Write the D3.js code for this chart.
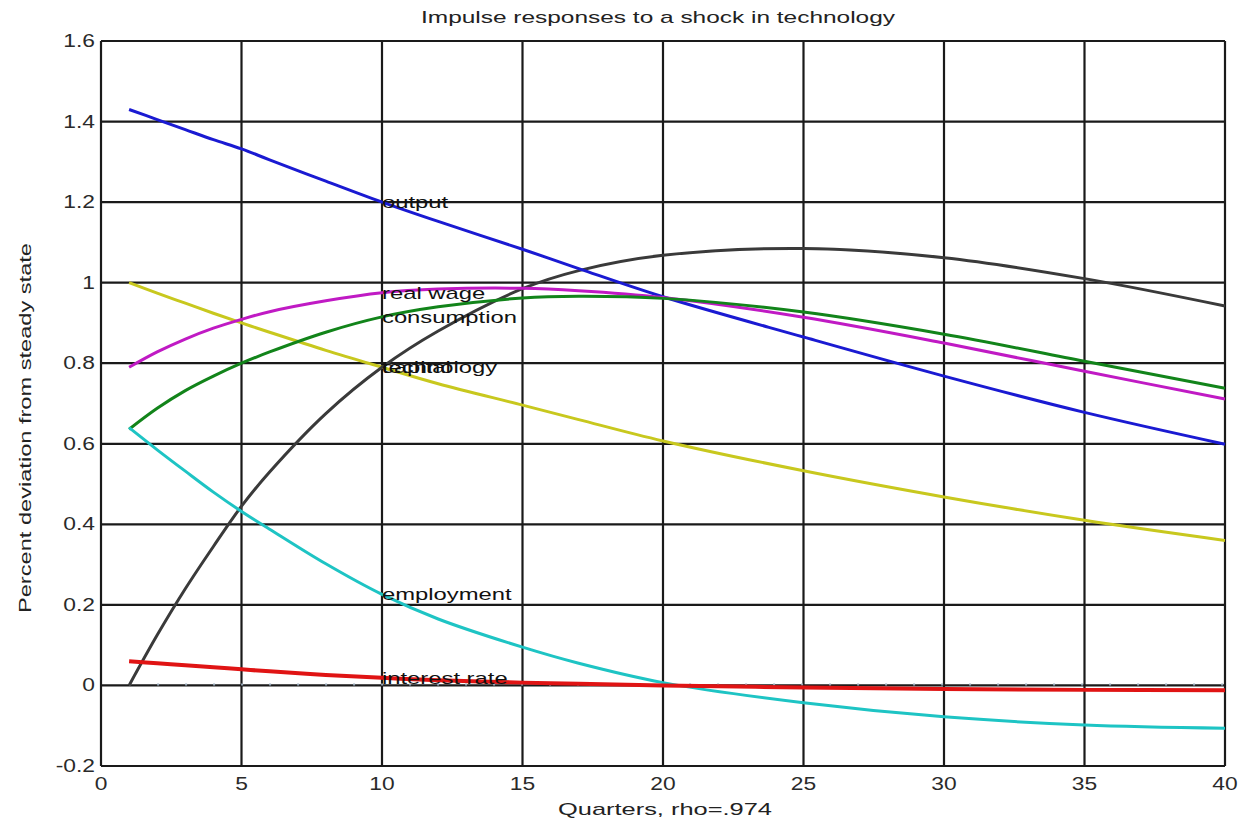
<!DOCTYPE html>
<html>
<head>
<meta charset="utf-8">
<script src="https://cdn.jsdelivr.net/npm/d3@7"></script>
<style>
  html, body { margin: 0; padding: 0; background: #fff; }
  svg { display: block; font-family: "Liberation Sans", Arial, sans-serif; }
</style>
</head>
<body>
<div id="chart"></div>
<script>
const width = 1241
const height = 821

const quarters = [1, 2, 3, 4, 5, 6, 8, 10, 12, 15, 17, 20, 25, 30, 35, 40]

const output      = [1.43, 1.405, 1.38, 1.355, 1.332, 1.305, 1.252, 1.2, 1.152, 1.083, 1.035, 0.965, 0.865, 0.768, 0.678, 0.599]
const capital     = [0.0, 0.125, 0.24, 0.345, 0.445, 0.53, 0.675, 0.79, 0.88, 0.985, 1.03, 1.068, 1.085, 1.062, 1.01, 0.942]
const realWage    = [0.79, 0.828, 0.86, 0.887, 0.909, 0.928, 0.955, 0.975, 0.984, 0.986, 0.98, 0.963, 0.914, 0.85, 0.78, 0.711]
const consumption = [0.636, 0.688, 0.732, 0.768, 0.8, 0.828, 0.877, 0.915, 0.94, 0.962, 0.966, 0.961, 0.927, 0.872, 0.805, 0.738]
const technology  = [1.0, 0.974, 0.949, 0.924, 0.9, 0.877, 0.832, 0.79, 0.749, 0.696, 0.66, 0.607, 0.533, 0.468, 0.41, 0.36]
const employment  = [0.64, 0.585, 0.532, 0.48, 0.432, 0.388, 0.302, 0.226, 0.165, 0.095, 0.055, 0.007, -0.043, -0.078, -0.098, -0.106]
const interest    = [0.06, 0.055, 0.05, 0.045, 0.04, 0.035, 0.026, 0.019, 0.013, 0.007, 0.004, 0.0, -0.005, -0.009, -0.011, -0.012]

const seriesNames  = ['technology', 'capital', 'output', 'real wage', 'consumption', 'employment', 'interest rate']
const seriesValues = [technology, capital, output, realWage, consumption, employment, interest]
const seriesColors = ['#c8c81e', '#3a3a3a', '#1a1ad2', '#c01ac4', '#12841a', '#1ec4c4', '#e01414']
const labelQuarter = 10

const xTicks = [0, 5, 10, 15, 20, 25, 30, 35, 40]
const yTicks = [-0.2, 0, 0.2, 0.4, 0.6, 0.8, 1, 1.2, 1.4, 1.6]

const title = 'Impulse responses to a shock in technology'
const xTitle = 'Quarters, rho=.974'
const yTitle = 'Percent deviation from steady state'

const plot = {left: 101, right: 1225, top: 41, bottom: 766}

const x = d3.scaleLinear().domain([0, 40]).range([plot.left, plot.right])
const y = d3.scaleLinear().domain([-0.2, 1.6]).range([plot.bottom, plot.top])

const svg = d3.select('#chart')
  .append('svg')
  .attr('width', width)
  .attr('height', height)

// grid
svg.append('g')
  .selectAll('line')
  .data(xTicks)
  .join('line')
  .attr('x1', d => x(d)).attr('x2', d => x(d))
  .attr('y1', plot.top).attr('y2', plot.bottom)
  .attr('stroke', '#1a1a1a')
  .attr('stroke-width', 2.2)

svg.append('g')
  .selectAll('line')
  .data(yTicks)
  .join('line')
  .attr('x1', plot.left).attr('x2', plot.right)
  .attr('y1', d => y(d)).attr('y2', d => y(d))
  .attr('stroke', '#1a1a1a')
  .attr('stroke-width', 2.2)

// dotted zero series
svg.append('line')
  .attr('x1', x(1)).attr('x2', x(40))
  .attr('y1', y(0) - 1).attr('y2', y(0) - 1)
  .attr('stroke', '#9ab')
  .attr('stroke-width', 2)
  .attr('stroke-dasharray', '2,26')

// tick labels
svg.append('g')
  .selectAll('text')
  .data(yTicks)
  .join('text')
  .attr('transform', d => `translate(${plot.left - 6},${y(d) + 6}) scale(1.2,1)`)
  .attr('text-anchor', 'end')
  .attr('font-size', 19)
  .attr('fill', '#2a2a2a')
  .text(d => String(d))

svg.append('g')
  .selectAll('text')
  .data(xTicks)
  .join('text')
  .attr('transform', d => `translate(${x(d)},790) scale(1.2,1)`)
  .attr('text-anchor', 'middle')
  .attr('font-size', 19)
  .attr('fill', '#2a2a2a')
  .text(d => String(d))

// lines
const line = d3.line()
  .x(d => x(d[0]))
  .y(d => y(d[1]))
  .curve(d3.curveCatmullRom.alpha(0.5))

seriesValues.forEach((vals, i) => {
  svg.append('path')
    .datum(quarters.map((q, j) => [q, vals[j]]))
    .attr('fill', 'none')
    .attr('stroke', seriesColors[i])
    .attr('stroke-width', seriesNames[i] === 'interest rate' ? 4 : 3)
    .attr('d', line)
})

// in-plot labels at quarter 10
const li = quarters.indexOf(labelQuarter)
svg.append('g')
  .selectAll('text')
  .data(seriesNames)
  .join('text')
  .attr('transform', (d, i) => `translate(${x(labelQuarter)},${y(seriesValues[i][li]) + 6}) scale(1.4,1)`)
  .attr('font-size', 17)
  .attr('fill', '#111')
  .text(d => d)

// titles
svg.append('text')
  .attr('x', 658).attr('y', 23)
  .attr('text-anchor', 'middle')
  .attr('font-size', 17)
  .attr('fill', '#222')
  .attr('textLength', 474)
  .attr('lengthAdjust', 'spacingAndGlyphs')
  .text(title)

svg.append('text')
  .attr('x', 665).attr('y', 815)
  .attr('text-anchor', 'middle')
  .attr('font-size', 17)
  .attr('fill', '#222')
  .attr('textLength', 214)
  .attr('lengthAdjust', 'spacingAndGlyphs')
  .text(xTitle)

svg.append('text')
  .attr('transform', 'translate(31,428) rotate(-90)')
  .attr('text-anchor', 'middle')
  .attr('font-size', 17)
  .attr('fill', '#222')
  .attr('textLength', 370)
  .attr('lengthAdjust', 'spacingAndGlyphs')
  .text(yTitle)
</script>
</body>
</html>
